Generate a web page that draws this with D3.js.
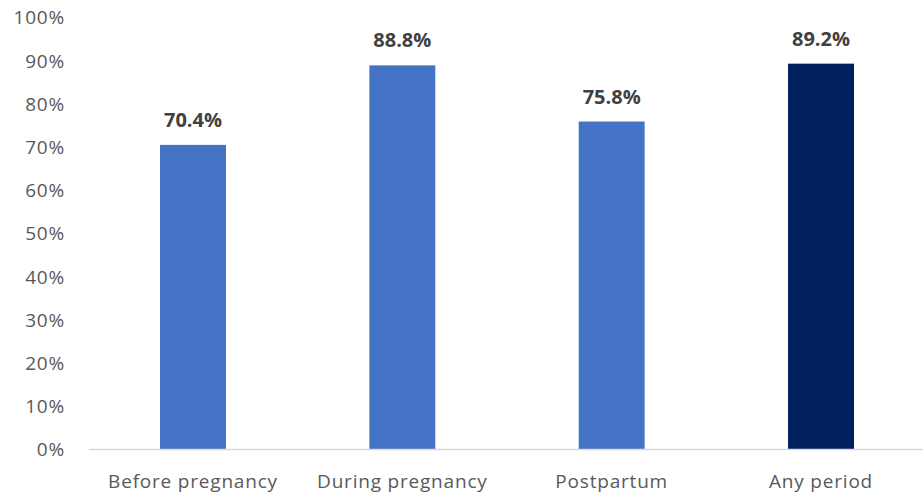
<!DOCTYPE html>
<html><head><meta charset="utf-8">
<script src="https://cdn.jsdelivr.net/npm/d3@7"></script>
<style>body{margin:0;background:#fff}svg{display:block}</style>
</head><body>
<script>
const categories = ["Before pregnancy", "During pregnancy", "Postpartum", "Any period"];
const values = [70.4, 88.8, 75.8, 89.2];
const barColors = ["#4472C4", "#4472C4", "#4472C4", "#002060"];
const yTicks = [0, 10, 20, 30, 40, 50, 60, 70, 80, 90, 100];

const W = 923, H = 495;
const svg = d3.select("body").append("svg").attr("width", W).attr("height", H);
const font = "'Open Sans', sans-serif";

const x = d3.scaleBand().domain(categories).range([88.3, 925.7]).paddingInner(0.685).paddingOuter(0.3425);
const y = d3.scaleLinear().domain([0, 100]).range([449, 17]);

// y axis labels
const yAxis = d3.axisLeft(y).tickValues(yTicks).tickFormat(d => d + "%").tickSize(0).tickPadding(0);
const gy = svg.append("g").attr("transform", "translate(65,0)").call(yAxis);
gy.select(".domain").remove();
gy.selectAll("text").attr("font-family", font).attr("font-size", 19).attr("fill", "#595959").attr("dy", "0.36em").style("letter-spacing", "0.8px");

// bars
svg.append("g").selectAll("rect").data(categories).join("rect")
  .attr("x", d => x(d)).attr("width", x.bandwidth())
  .attr("y", (d, i) => y(values[i])).attr("height", (d, i) => y(0) - y(values[i]))
  .attr("fill", (d, i) => barColors[i]);

// x axis
const xAxis = d3.axisBottom(x).tickSize(0).tickPadding(22);
const gx = svg.append("g").attr("transform", `translate(0,${y(0)})`).call(xAxis);
gx.select(".domain").attr("stroke", "#d9d9d9").attr("stroke-width", 1.5);
gx.selectAll("text").attr("font-family", font).attr("font-size", 19).attr("fill", "#595959").attr("dy", "0.36em").attr("y", 32).style("letter-spacing", "0.8px");

// value labels
svg.append("g").selectAll("text").data(categories).join("text")
  .attr("x", d => x(d) + x.bandwidth() / 2)
  .attr("y", (d, i) => y(values[i]) - 18)
  .attr("text-anchor", "middle")
  .attr("font-family", font).attr("font-size", 20).attr("font-weight", "bold").attr("fill", "#404040")
  .text((d, i) => values[i].toFixed(1) + "%");
</script>
</body></html>
